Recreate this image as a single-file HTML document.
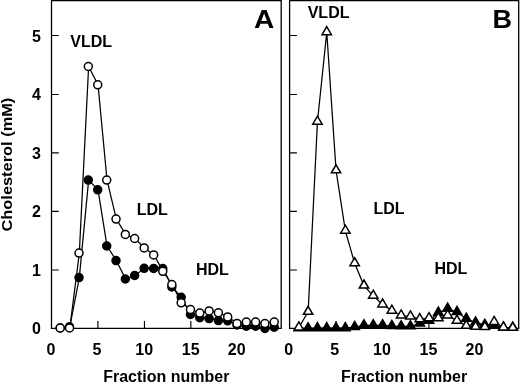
<!DOCTYPE html>
<html><head><meta charset="utf-8"><style>
html,body{margin:0;padding:0;background:#fff;width:520px;height:382px;overflow:hidden}
svg{display:block;font-family:"Liberation Sans",sans-serif;will-change:transform}
</style></head><body>
<svg width="520" height="382" viewBox="0 0 520 382"><path d="M51.5 0.6H281.2V328.4H51.5Z" fill="none" stroke="#000" stroke-width="1.3"/><path d="M51.5 270h7.3M51.5 211.3h7.3M51.5 152.9h7.3M51.5 94.5h7.3M51.5 35.5h7.3M97.95 328.4V321M144.47 328.4V321M190.84 328.4V321M237.3 328.4V321" stroke="#000" stroke-width="1.15" fill="none"/><path d="M289.6 0.6H518.7V328.4H289.6Z" fill="none" stroke="#000" stroke-width="1.3"/><path d="M289.6 270h7.3M289.6 211.3h7.3M289.6 152.9h7.3M289.6 94.5h7.3M289.6 35.5h7.3M336.05 328.4V321M382.57 328.4V321M428.94 328.4V321M475.4 328.4V321" stroke="#000" stroke-width="1.15" fill="none"/><g fill="none" stroke="#000" stroke-width="1.25" transform="translate(0.3 0)"><polyline points="60.2,328 69.51,326.8 79.02,277.6 88.32,180.1 97.72,189.8 106.73,246 116.03,260.6 125.34,279 134.65,275.5 144.15,268.3 153.66,268.4 162.76,268.6 171.87,287 181.17,297.3 190.47,314.5 199.78,317.7 209.09,318.6 218.39,320.6 227.69,320.8 237,325 246.31,326.2 255.61,326.2 264.91,328.4 274.22,327.2"/><polyline points="60.2,328 69.51,328 79.02,253.1 88.32,66.5 97.72,84.8 106.73,180.1 116.03,219.1 125.34,234.4 134.65,238.5 144.15,247.9 153.66,254.9 162.76,271.3 171.87,284.5 181.17,302.8 190.47,309.5 199.78,313.1 209.09,310.9 218.39,312.8 227.69,316.9 237,323.4 246.31,322.1 255.61,322.1 264.91,323.6 274.22,322.1"/></g><g fill="#000" stroke="#000" stroke-width="1.5"><circle cx="60.2" cy="328" r="4.0"/><circle cx="69.51" cy="326.8" r="4.0"/><circle cx="79.02" cy="277.6" r="4.0"/><circle cx="88.32" cy="180.1" r="4.0"/><circle cx="97.72" cy="189.8" r="4.0"/><circle cx="106.73" cy="246" r="4.0"/><circle cx="116.03" cy="260.6" r="4.0"/><circle cx="125.34" cy="279" r="4.0"/><circle cx="134.65" cy="275.5" r="4.0"/><circle cx="144.15" cy="268.3" r="4.0"/><circle cx="153.66" cy="268.4" r="4.0"/><circle cx="162.76" cy="268.6" r="4.0"/><circle cx="171.87" cy="287" r="4.0"/><circle cx="181.17" cy="297.3" r="4.0"/><circle cx="190.47" cy="314.5" r="4.0"/><circle cx="199.78" cy="317.7" r="4.0"/><circle cx="209.09" cy="318.6" r="4.0"/><circle cx="218.39" cy="320.6" r="4.0"/><circle cx="227.69" cy="320.8" r="4.0"/><circle cx="237" cy="325" r="4.0"/><circle cx="246.31" cy="326.2" r="4.0"/><circle cx="255.61" cy="326.2" r="4.0"/><circle cx="264.91" cy="328.4" r="4.0"/><circle cx="274.22" cy="327.2" r="4.0"/></g><g fill="#fff" stroke="#000" stroke-width="1.5"><circle cx="60.2" cy="328" r="4.0"/><circle cx="69.51" cy="328" r="4.0"/><circle cx="79.02" cy="253.1" r="4.0"/><circle cx="88.32" cy="66.5" r="4.0"/><circle cx="97.72" cy="84.8" r="4.0"/><circle cx="106.73" cy="180.1" r="4.0"/><circle cx="116.03" cy="219.1" r="4.0"/><circle cx="125.34" cy="234.4" r="4.0"/><circle cx="134.65" cy="238.5" r="4.0"/><circle cx="144.15" cy="247.9" r="4.0"/><circle cx="153.66" cy="254.9" r="4.0"/><circle cx="162.76" cy="271.3" r="4.0"/><circle cx="171.87" cy="284.5" r="4.0"/><circle cx="181.17" cy="302.8" r="4.0"/><circle cx="190.47" cy="309.5" r="4.0"/><circle cx="199.78" cy="313.1" r="4.0"/><circle cx="209.09" cy="310.9" r="4.0"/><circle cx="218.39" cy="312.8" r="4.0"/><circle cx="227.69" cy="316.9" r="4.0"/><circle cx="237" cy="323.4" r="4.0"/><circle cx="246.31" cy="322.1" r="4.0"/><circle cx="255.61" cy="322.1" r="4.0"/><circle cx="264.91" cy="323.6" r="4.0"/><circle cx="274.22" cy="322.1" r="4.0"/></g><g fill="none" stroke="#000" stroke-width="1.25"><polyline points="298.85,328.2 308.15,328.4 317.45,328.2 326.75,328.2 336.05,328.2 345.35,328.2 354.65,327 363.95,325.4 373.25,325.3 382.55,325.3 391.85,326.1 401.15,326.4 410.45,326.4 419.75,323.5 429.05,320.75 438.35,312.7 447.65,308.7 456.95,312 466.25,318.8 475.55,322.6 484.85,324.9 494.15,325.2 503.45,327.5 512.75,327.8"/><polyline points="298.85,327.5 308.15,311.9 317.45,121.8 326.75,32.2 336.05,170.4 345.35,230.8 354.65,263.3 363.95,285.6 373.25,295.8 382.55,304.5 391.85,310.8 401.15,315.5 410.45,316.5 419.75,319.2 429.05,318.3 438.35,318.3 447.65,315.5 456.95,320.8 466.25,325.9 475.55,326.9 484.85,327.1 494.15,322 503.45,327.5 512.75,327.9"/></g><path fill="#000" stroke="#000" stroke-width="1.5" stroke-linejoin="miter" d="M298.85 322.6L303.55 330.63L294.15 330.63ZM308.15 322.8L312.85 330.83L303.45 330.83ZM317.45 322.6L322.15 330.63L312.75 330.63ZM326.75 322.6L331.45 330.63L322.05 330.63ZM336.05 322.6L340.75 330.63L331.35 330.63ZM345.35 322.6L350.05 330.63L340.65 330.63ZM354.65 321.4L359.35 329.43L349.95 329.43ZM363.95 319.8L368.65 327.83L359.25 327.83ZM373.25 319.7L377.95 327.73L368.55 327.73ZM382.55 319.7L387.25 327.73L377.85 327.73ZM391.85 320.5L396.55 328.53L387.15 328.53ZM401.15 320.8L405.85 328.83L396.45 328.83ZM410.45 320.8L415.15 328.83L405.75 328.83ZM419.75 317.9L424.45 325.93L415.05 325.93ZM429.05 315.15L433.75 323.18L424.35 323.18ZM438.35 307.1L443.05 315.13L433.65 315.13ZM447.65 303.1L452.35 311.13L442.95 311.13ZM456.95 306.4L461.65 314.43L452.25 314.43ZM466.25 313.2L470.95 321.23L461.55 321.23ZM475.55 317L480.25 325.03L470.85 325.03ZM484.85 319.3L489.55 327.33L480.15 327.33ZM494.15 319.6L498.85 327.63L489.45 327.63ZM503.45 321.9L508.15 329.93L498.75 329.93ZM512.75 322.2L517.45 330.23L508.05 330.23Z"/><path fill="#fff" stroke="#000" stroke-width="1.5" stroke-linejoin="miter" d="M298.85 321.9L303.55 329.93L294.15 329.93ZM308.15 306.3L312.85 314.33L303.45 314.33ZM317.45 116.2L322.15 124.23L312.75 124.23ZM326.75 26.6L331.45 34.63L322.05 34.63ZM336.05 164.8L340.75 172.83L331.35 172.83ZM345.35 225.2L350.05 233.23L340.65 233.23ZM354.65 257.7L359.35 265.73L349.95 265.73ZM363.95 280L368.65 288.03L359.25 288.03ZM373.25 290.2L377.95 298.23L368.55 298.23ZM382.55 298.9L387.25 306.93L377.85 306.93ZM391.85 305.2L396.55 313.23L387.15 313.23ZM401.15 309.9L405.85 317.93L396.45 317.93ZM410.45 310.9L415.15 318.93L405.75 318.93ZM419.75 313.6L424.45 321.63L415.05 321.63ZM429.05 312.7L433.75 320.73L424.35 320.73ZM438.35 312.7L443.05 320.73L433.65 320.73ZM447.65 309.9L452.35 317.93L442.95 317.93ZM456.95 315.2L461.65 323.23L452.25 323.23ZM466.25 320.3L470.95 328.33L461.55 328.33ZM475.55 321.3L480.25 329.33L470.85 329.33ZM484.85 321.5L489.55 329.53L480.15 329.53ZM494.15 316.4L498.85 324.43L489.45 324.43ZM503.45 321.9L508.15 329.93L498.75 329.93ZM512.75 322.3L517.45 330.33L508.05 330.33Z"/><g font-family="Liberation Sans, sans-serif" font-weight="bold" fill="#000"><text x="41" y="334.2" font-size="16" text-anchor="end">0</text><text x="41" y="275.68" font-size="16" text-anchor="end">1</text><text x="41" y="217.16" font-size="16" text-anchor="end">2</text><text x="41" y="158.64" font-size="16" text-anchor="end">3</text><text x="41" y="100.12" font-size="16" text-anchor="end">4</text><text x="41" y="41.6" font-size="16" text-anchor="end">5</text><text x="51.05" y="354.6" font-size="16" text-anchor="middle">0</text><text x="97.05" y="354.6" font-size="16" text-anchor="middle">5</text><text x="144.2" y="354.6" font-size="16" text-anchor="middle">10</text><text x="190.7" y="354.6" font-size="16" text-anchor="middle">15</text><text x="236.7" y="354.6" font-size="16" text-anchor="middle">20</text><text x="166.35" y="381.5" font-size="16" text-anchor="middle">Fraction number</text><text x="288.75" y="354.6" font-size="16" text-anchor="middle">0</text><text x="334.75" y="354.6" font-size="16" text-anchor="middle">5</text><text x="381.9" y="354.6" font-size="16" text-anchor="middle">10</text><text x="428.4" y="354.6" font-size="16" text-anchor="middle">15</text><text x="474.4" y="354.6" font-size="16" text-anchor="middle">20</text><text x="404.05" y="381.5" font-size="16" text-anchor="middle">Fraction number</text><text transform="translate(11.9 164.6) rotate(-90) scale(1 0.94)" font-size="16.4" text-anchor="middle">Cholesterol (mM)</text><text x="70.3" y="47.1" font-size="16" text-anchor="start">VLDL</text><text x="136.7" y="214.5" font-size="16" text-anchor="start">LDL</text><text x="196" y="274.6" font-size="16" text-anchor="start">HDL</text><text x="307.7" y="18.3" font-size="16" text-anchor="start">VLDL</text><text x="373.4" y="213.6" font-size="16" text-anchor="start">LDL</text><text x="434.4" y="274.2" font-size="16" text-anchor="start">HDL</text><text transform="translate(264 27.9) scale(1.1 1)" font-size="25.5" text-anchor="middle">A</text><text transform="translate(502.2 27.9) scale(1.06 1)" font-size="25.5" text-anchor="middle">B</text></g></svg>
</body></html>
